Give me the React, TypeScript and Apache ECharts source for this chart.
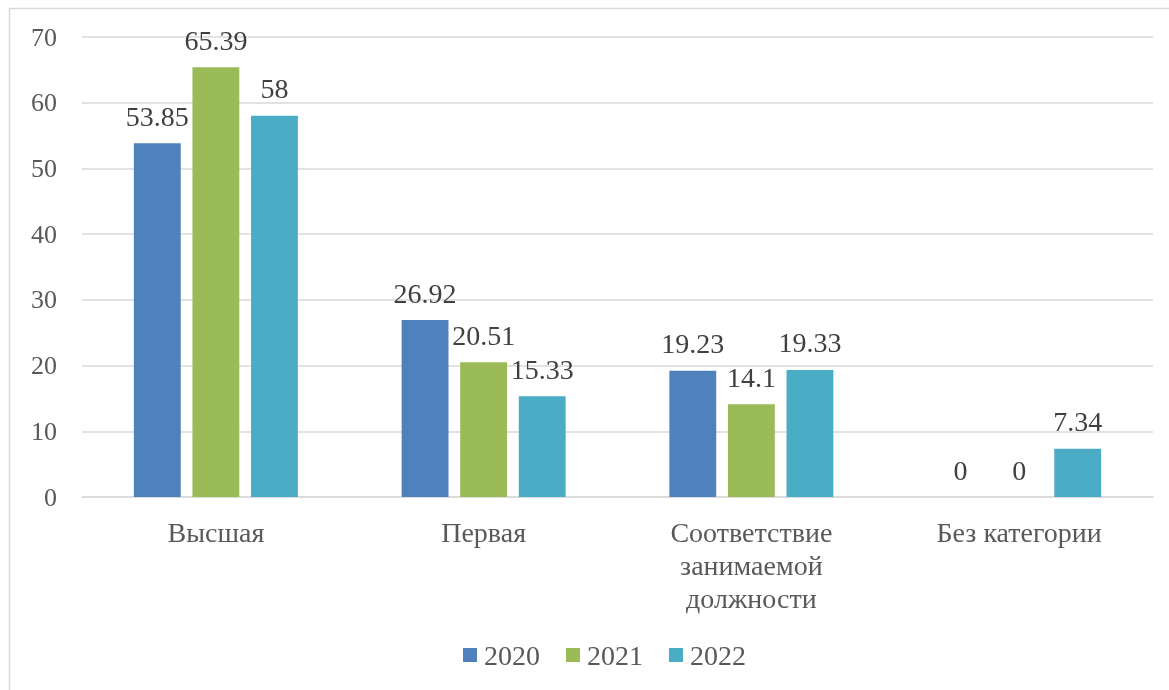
import React, { useEffect, useRef } from "react";
import * as echarts from "echarts";

const categories = ["Высшая", "Первая", "Соответствие\nзанимаемой\nдолжности", "Без категории"];
const seriesNames = ["2020", "2021", "2022"];
const values2020 = [53.85, 26.92, 19.23, 0];
const values2021 = [65.39, 20.51, 14.1, 0];
const values2022 = [58, 15.33, 19.33, 7.34];
const colors = ["#4F81BD", "#9BBB59", "#4BACC6"];

const FONT = "Times New Roman";

export default function App() {
  const ref = useRef<HTMLDivElement>(null);
  useEffect(() => {
    if (!ref.current) return;
    const chart = echarts.init(ref.current, null, { renderer: "svg" });
    const data = [values2020, values2021, values2022];
    chart.setOption({
      animation: false,
      graphic: [
        {
          type: "rect",
          shape: { x: 9.5, y: 8.5, width: 1300, height: 800 },
          style: { fill: "none", stroke: "#d9d9d9", lineWidth: 1.5 },
          silent: true,
        },
      ],
      grid: { left: 82, right: 16, top: 37, bottom: 193, containLabel: false },
      legend: {
        data: seriesNames,
        bottom: 16,
        left: 458,
        itemWidth: 14,
        itemHeight: 14,
        itemGap: 26,
        icon: "rect",
        textStyle: { fontFamily: FONT, fontSize: 28, color: "#595959", padding: [0, 0, 0, 2] },
      },
      xAxis: {
        type: "category",
        data: categories,
        axisLine: { show: true, lineStyle: { color: "#d9d9d9", width: 1.5 } },
        axisTick: { show: false },
        axisLabel: {
          fontFamily: FONT,
          fontSize: 28,
          color: "#595959",
          margin: 19,
          lineHeight: 33,
          interval: 0,
        },
      },
      yAxis: {
        type: "value",
        min: 0,
        max: 70,
        interval: 10,
        axisLine: { show: false },
        axisTick: { show: false },
        splitLine: { lineStyle: { color: "#d9d9d9", width: 1.5 } },
        axisLabel: { fontFamily: FONT, fontSize: 26, color: "#595959", margin: 25 },
      },
      series: seriesNames.map((name, i) => ({
        name,
        type: "bar",
        data: data[i],
        barWidth: "17.5%",
        barGap: "25%",
        itemStyle: { color: colors[i] },
        label: {
          show: true,
          position: "top",
          distance: 13,
          fontFamily: FONT,
          fontSize: 28,
          color: "#404040",
        },
      })),
    });
    return () => chart.dispose();
  }, []);
  return (
    <div
      ref={ref}
      style={{ position: "fixed", left: 0, top: 0, width: 1169, height: 690 }}
    />
  );
}
